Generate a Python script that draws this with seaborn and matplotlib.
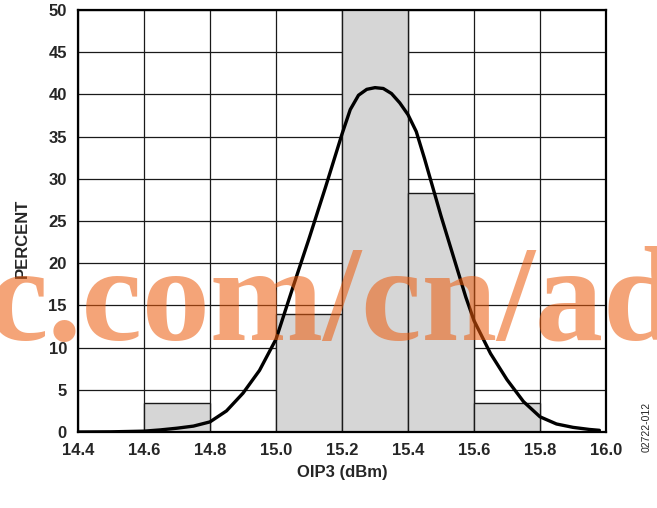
import numpy as np
import matplotlib
matplotlib.use("Agg")
import matplotlib.pyplot as plt
import seaborn as sns

# Histogram: OIP3 bins (dBm) and percentage of units in each bin
bin_edges = [14.6, 14.8, 15.0, 15.2, 15.4, 15.6, 15.8]
bin_centers = [14.7, 14.9, 15.1, 15.3, 15.5, 15.7]
bin_percent = [3.4, 0.0, 14.0, 50.9, 28.3, 3.4]

# Fitted distribution curve
curve_x = [14.40, 14.50, 14.60, 14.65, 14.70, 14.75, 14.80, 14.85, 14.90,
           14.95, 15.00, 15.05, 15.10, 15.15, 15.20, 15.225, 15.25, 15.275,
           15.30, 15.325, 15.35, 15.375, 15.40, 15.425, 15.45, 15.475,
           15.50, 15.525, 15.55, 15.575, 15.60, 15.65, 15.70, 15.75,
           15.80, 15.85, 15.90, 15.95, 15.98]
curve_y = [0.0, 0.02, 0.1, 0.25, 0.45, 0.7, 1.2, 2.5, 4.6,
           7.3, 11.0, 17.0, 22.9, 29.0, 35.3, 38.2, 39.9, 40.6,
           40.8, 40.7, 40.1, 39.0, 37.6, 35.6, 32.4, 29.0,
           25.6, 22.4, 19.2, 16.0, 13.2, 9.3, 6.2, 3.6,
           1.8, 0.95, 0.55, 0.3, 0.2]

x_ticks = [14.4, 14.6, 14.8, 15.0, 15.2, 15.4, 15.6, 15.8, 16.0]
y_ticks = [0, 5, 10, 15, 20, 25, 30, 35, 40, 45, 50]

sns.set_style("white")
plt.rcParams["font.family"] = ["Liberation Sans", "DejaVu Sans"]

W, H = 657, 508
fig = plt.figure(figsize=(W / 100, H / 100), dpi=100)
ax = fig.add_axes([78 / W, 76 / H, 528 / W, 422 / H])

sns.histplot(x=bin_centers, weights=bin_percent, bins=bin_edges, stat="count",
             color="#d6d6d6", edgecolor="#1a1a1a", linewidth=1.0, alpha=1.0,
             ax=ax, zorder=2)
sns.lineplot(x=curve_x, y=curve_y, color="black", linewidth=2.4, ax=ax,
             zorder=3)

ax.set_xlim(14.4, 16.0)
ax.set_ylim(0, 50)
ax.set_xticks(x_ticks)
ax.set_xticklabels([f"{t:.1f}" for t in x_ticks])
ax.set_yticks(y_ticks)
ax.set_yticklabels([str(t) for t in y_ticks])
ax.tick_params(axis="both", length=0, labelsize=12, pad=8)
for lbl in ax.get_xticklabels() + ax.get_yticklabels():
    lbl.set_fontweight("bold")

ax.set_axisbelow(True)
ax.grid(True, color="#1a1a1a", linewidth=0.9)
for sp in ax.spines.values():
    sp.set_visible(True)
    sp.set_color("black")
    sp.set_linewidth(1.6)

ax.set_xlabel("OIP3 (dBm)", fontsize=12, fontweight="bold")
ax.set_ylabel("PERCENT", fontsize=12, fontweight="bold")
ax.xaxis.set_label_coords(0.5, -0.078)
ax.yaxis.set_label_coords(-0.0907, 0.46)

fig.text(647 / W, (H - 427) / H, "02722-012", rotation=90, fontsize=7.5,
         ha="center", va="center")

# Site watermark overlaid across the plot
fig.text(-13 / W, (H - 340) / H, "c.com/cn/ad", family="Liberation Serif",
         fontweight="bold", fontsize=98, color="#ec5a0a", alpha=0.55,
         ha="left", va="baseline", zorder=10)

fig.savefig("out.png", dpi=100)
